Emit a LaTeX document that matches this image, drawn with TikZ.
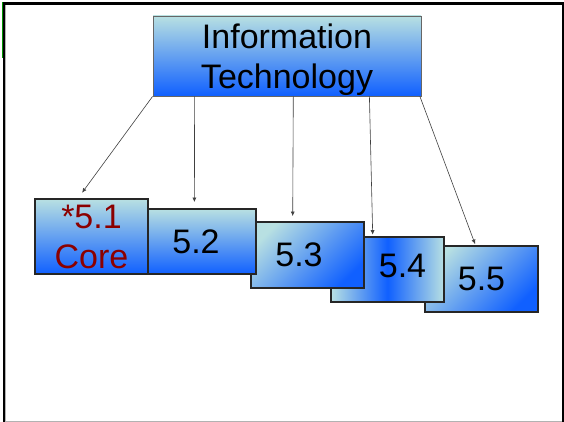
\documentclass[tikz,border=0pt]{standalone}
\usepackage{fontspec}
\setmainfont{Liberation Sans}
\usetikzlibrary{arrows.meta}

\definecolor{lite}{RGB}{184,224,226}
\definecolor{blu}{RGB}{16,96,255}
\definecolor{corered}{RGB}{139,0,0}
\definecolor{framegreen}{RGB}{0,150,0}

\tikzset{
  sectionbox/.style={draw=black!85, line width=1.2pt, inner sep=0pt, minimum width=113pt, minimum height=65pt},
  topbox/.style={draw=black!60, line width=0.8pt, inner sep=0pt, top color=lite, bottom color=blu, align=center},
  link/.style={draw=black!75, line width=0.6pt, -{Latex[length=4.5pt,width=4pt]}}
}

\begin{document}
\begin{tikzpicture}[x=1pt, y=-1pt, font=\fontsize{34}{40}\selectfont]
% Background
\useasboundingbox (0,0) rectangle (564,422);
\fill[white] (0,0) rectangle (564,422);

% Outer Lines
\fill[black] (5,2) rectangle (564,5);
\fill[black] (3,2) rectangle (5,422);
\fill[black] (562,2) rectangle (564,422);
\fill[black!30] (5,5) rectangle (6,422);
\fill[black!30] (6,420.5) rectangle (562,422);
\fill[framegreen] (2,2) rectangle (3,58);

% Main Box
\node[topbox, minimum width=268pt, minimum height=80pt, text depth=0pt] (it) at (287,56) {Information\\Technology};

% Section Boxes (back to front)
\node[sectionbox, minimum height=66pt, top color=lite, bottom color=blu, shading angle=45] (b5) at (481.5,279) {5.5};
\node[sectionbox, left color=lite, right color=lite, middle color=blu,
      label={[name=t4, shift={(15,-3.7)}]center:5.4}] (b4) at (387.5,269.5) {};
\node[sectionbox, minimum height=66pt, top color=lite, middle color=blu, bottom color=blu, shading angle=45,
      label={[name=t3, shift={(-8.5,0)}]center:5.3}] (b3) at (307.5,255) {};
\node[sectionbox, minimum width=108pt, top color=lite, bottom color=blu,
      label={[name=t2, shift={(-6,0)}]center:5.2}] (b2) at (202,241.5) {};
\node[sectionbox, minimum height=75pt, top color=lite, bottom color=blu, align=center, text=corered] (b1) at (91.5,236.5) {*5.1\\Core};

% Arrows
\draw[link] (it.south west) -- ([shift={(47.7,-5.7)}]b1.north west);
\draw[link] ([shift={(42,0)}]it.south west) -- ([shift={(47,-6.3)}]b2.north west);
\draw[link] ([shift={(6.3,0)}]it.south) -- ([shift={(42.3,-5.3)}]b3.north west);
\draw[link] ([shift={(-52,0)}]it.south east) -- ([shift={(42.3,-1.7)}]b4.north west);
\draw[link] ([shift={(-1.5,0)}]it.south east) -- ([shift={(50.7,-1.3)}]b5.north west);
\end{tikzpicture}
\end{document}
